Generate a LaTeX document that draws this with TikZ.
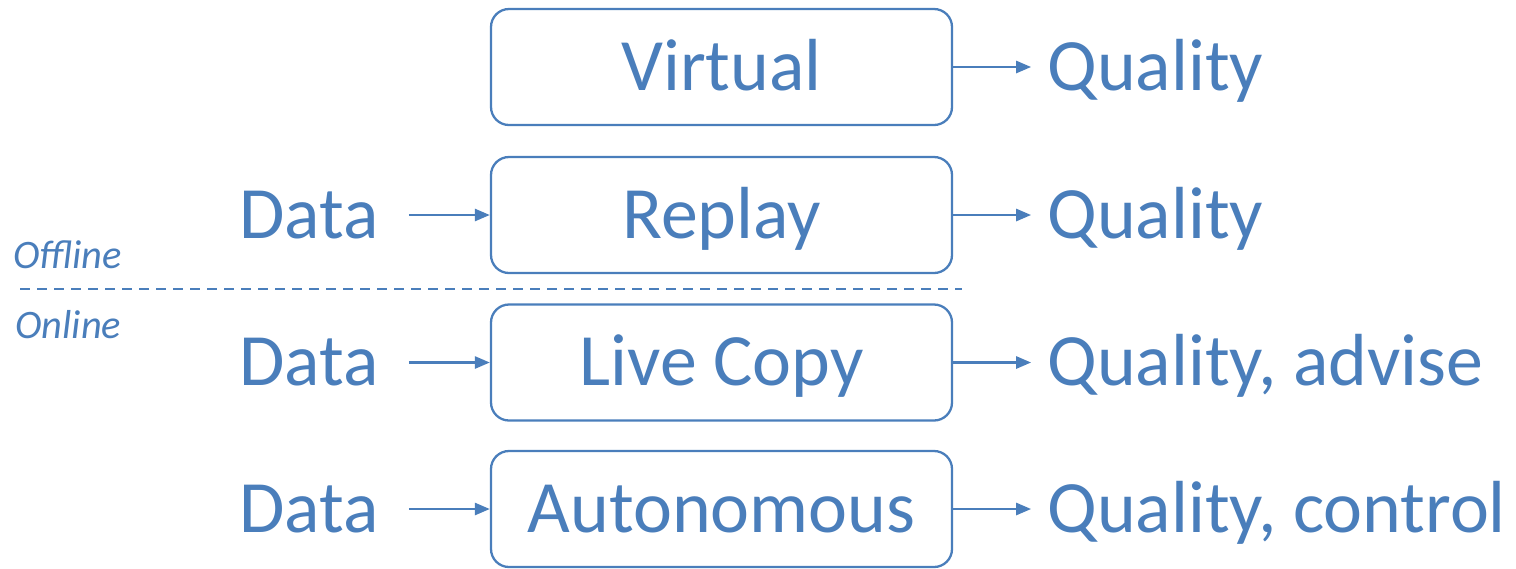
\documentclass[tikz,border=0pt]{standalone}
\usepackage{fontspec}
\setmainfont{Carlito}
\usetikzlibrary{positioning,arrows.meta}
\definecolor{msblue}{HTML}{4A7EBB}

\begin{document}
\begin{tikzpicture}[
  box/.style={draw=msblue, line width=1.3pt, rounded corners=0.36cm, minimum width=9.22cm, minimum height=2.32cm, inner sep=0pt, text height=26.5pt, text depth=0pt, text=msblue, font=\fontsize{42}{46}\selectfont},
  lbl/.style={inner sep=0pt, text height=26.5pt, text depth=0pt, text=msblue, font=\fontsize{42}{46}\selectfont},
  side/.style={inner sep=0pt, anchor=base west, text=msblue, font=\fontsize{23}{26}\selectfont\itshape},
  arr/.style={draw=msblue, line width=1.5pt, -{Triangle[length=0.3cm,width=0.24cm]}}
]
\useasboundingbox (0,0) rectangle (30.32,-11.36);

\node [box] (virt) at (14.43,-1.34) {Virtual};
\node [box] (repl) at (14.43,-4.30) {Replay};
\node [box] (live) at (14.43,-7.25) {Live Copy};
\node [box] (auto) at (14.43,-10.18) {Autonomous};

\node [lbl, right=1.88cm of virt] (q1) {Quality};
\node [lbl, right=1.88cm of repl] (q2) {Quality};
\node [lbl, right=1.88cm of live] (q3) {Quality, advise};
\node [lbl, right=1.88cm of auto] (q4) {Quality, control};

\node [lbl, left=2.22cm of repl] (d2) {Data};
\node [lbl, left=2.22cm of live] (d3) {Data};
\node [lbl, left=2.22cm of auto] (d4) {Data};

\draw [arr, shorten >=0.32cm] (virt) -- (q1);
\draw [arr, shorten >=0.32cm] (repl) -- (q2);
\draw [arr, shorten >=0.32cm] (live) -- (q3);
\draw [arr, shorten >=0.32cm] (auto) -- (q4);

\draw [arr, shorten <=0.6cm] (d2) -- (repl);
\draw [arr, shorten <=0.6cm] (d3) -- (live);
\draw [arr, shorten <=0.6cm] (d4) -- (auto);

% offline / online split
\coordinate (cutL) at (0.4,-5.78);
\coordinate (cutR) at (19.24,-5.78);
\draw [msblue, line width=1pt, dash pattern=on 0.2cm off 0.14cm] (cutL) -- (cutR);
\node [side] (off) at (0.26,-5.36) {Offline};
\node [side] (on) at (0.3,-6.76) {Online};

\end{tikzpicture}
\end{document}
